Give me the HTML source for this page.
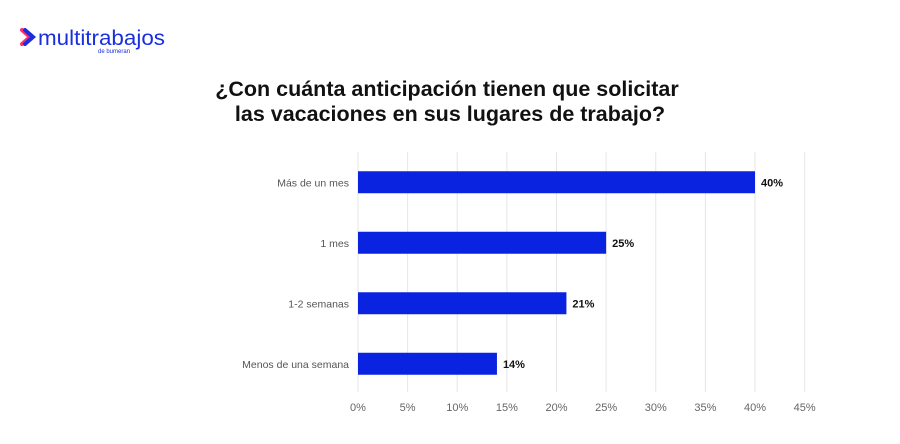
<!DOCTYPE html>
<html><head><meta charset="utf-8"><style>
body{margin:0;background:#fff;width:900px;height:439px;overflow:hidden;font-family:"Liberation Sans",Arial,sans-serif}
</style></head><body>
<svg width="900" height="439">
<g>
<path d="M22 30 L30 37 L22 44" stroke="#ff2d6f" stroke-width="4" fill="none" stroke-linecap="round"/>
<path d="M25 30 L33 37 L25 44" stroke="#1a2ee0" stroke-width="4" fill="none" stroke-linecap="round"/>
<text x="38" y="45" font-size="21" fill="#1a2ee0" textLength="127" lengthAdjust="spacingAndGlyphs">multitrabajos</text>
<text x="98" y="53" font-size="6" fill="#1a2ee0">de bumeran</text>
</g>
<text text-anchor="middle" font-size="21.5" font-weight="bold" fill="#111">
<tspan x="450" y="96">¿Con cuánta anticipación tienen que solicitar</tspan>
<tspan x="450" y="121">las vacaciones en sus lugares de trabajo?</tspan></text>
<g id="grid"></g><g id="bars"></g><g id="labels"></g>
</svg>
<script>
const categories=["Más de un mes","1 mes","1-2 semanas","Menos de una semana"];
const values=[40,25,21,14];
const ticks=[0,5,10,15,20,25,30,35,40,45];
const NS="http://www.w3.org/2000/svg";
const x0=358,px=(755-358)/40,yTop=152,yBot=392,band=60.5,y0=152;
const X=v=>x0+v*px, Y=i=>y0+band*(i+0.5);
function mk(t,a,p,txt){const e=document.createElementNS(NS,t);for(const k in a)e.setAttribute(k,a[k]);if(txt!=null)e.textContent=txt;document.getElementById(p).appendChild(e);return e;}
ticks.forEach(t=>{
 const l=mk('line',{x1:X(t),x2:X(t),y1:yTop,y2:yBot,stroke:'#e6e6e6','stroke-width':1},'grid');
 
 
 const tx=mk('text',{x:X(t),y:411,'text-anchor':'middle','font-size':11,fill:'#666'},'grid',t+'%');
 
 
});
categories.forEach((c,i)=>{
 const yc=Y(i);
 const r=mk('rect',{x:X(0),y:yc-11,width:X(values[i])-X(0),height:22,fill:'#0a23e0'},'bars');
 
 
 const cl=mk('text',{x:349,y:yc+4,'text-anchor':'end','font-size':10.5,fill:'#555'},'labels',c);
 
 
 const vl=mk('text',{x:X(values[i])+6,y:yc+4,'font-size':11,'font-weight':'bold',fill:'#111'},'labels',values[i]+'%');
 
 
});
</script>
</body></html>
